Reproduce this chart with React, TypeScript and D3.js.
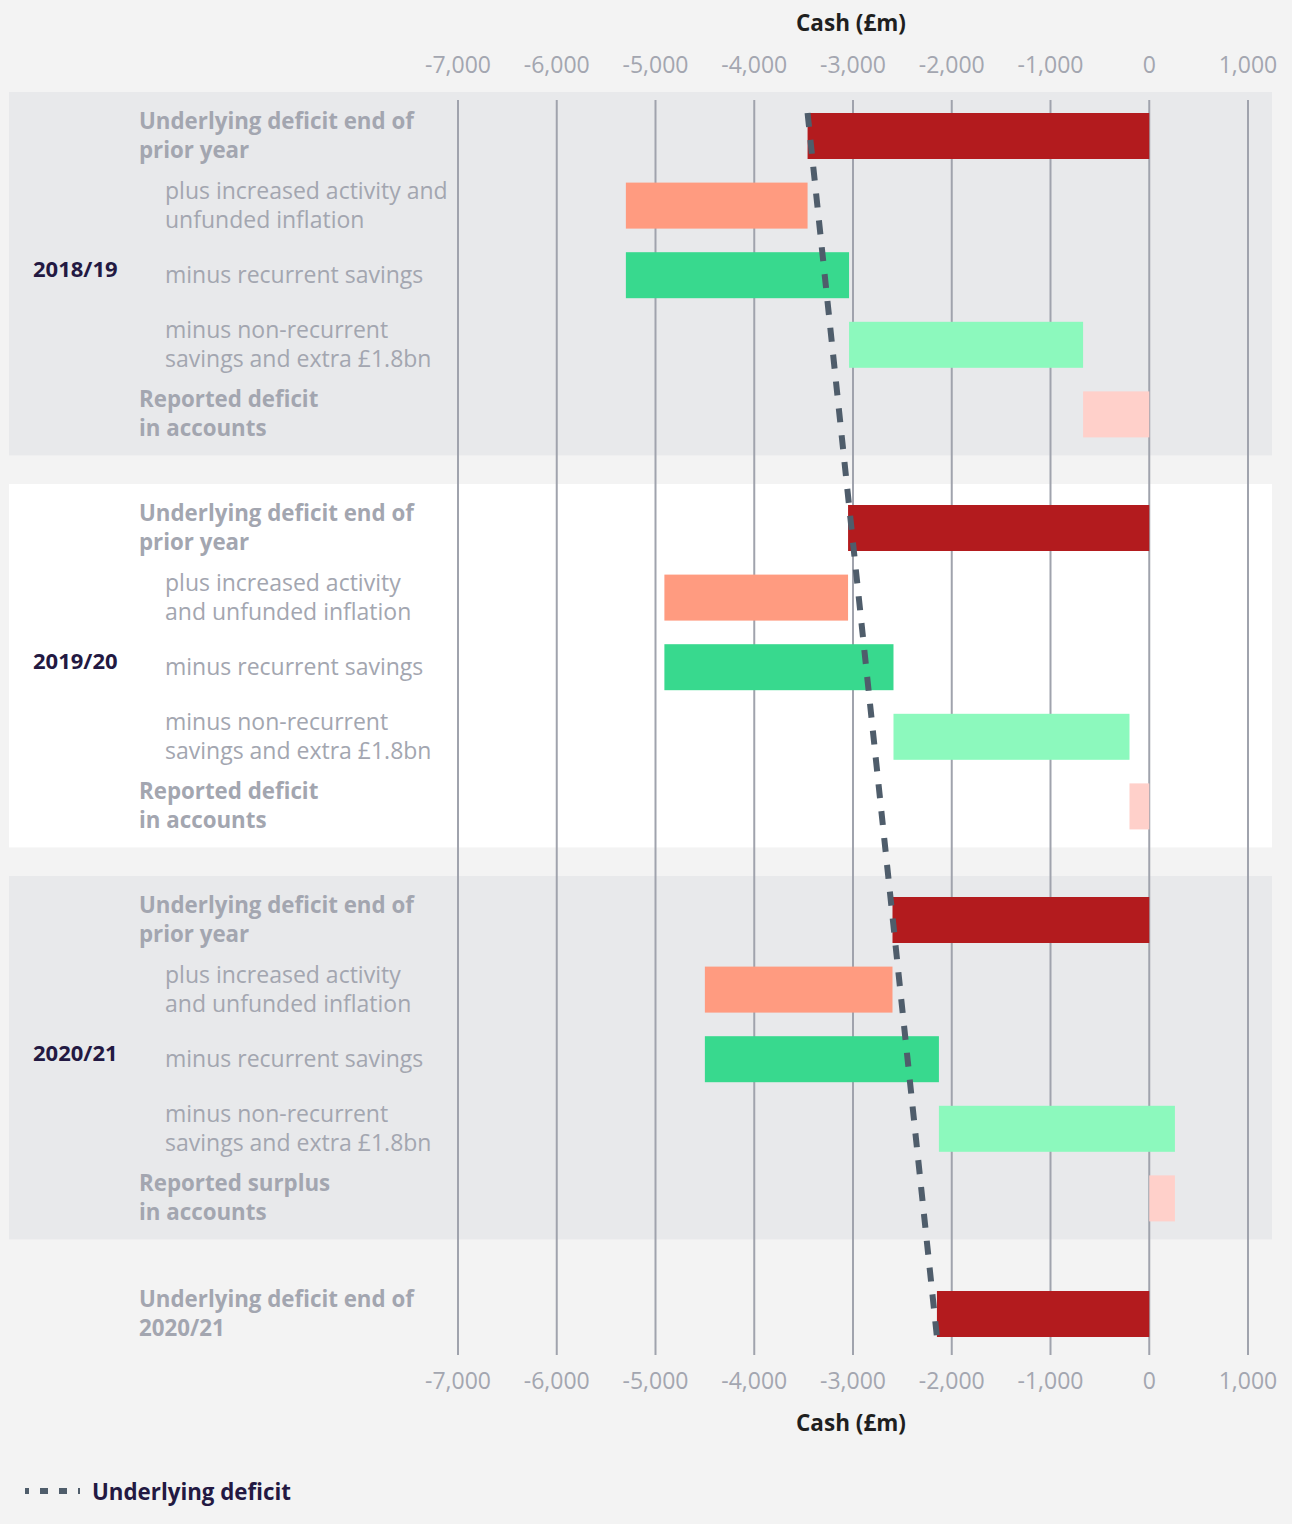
import React from "react";
import * as d3 from "d3";

const years = ["2018/19", "2019/20", "2020/21"];
const underlyingStart = [-3460, -3050, -2600];
const increasedActivity = [1840, 1860, 1900];
const recurrentSavings = [2260, 2320, 2370];
const nonRecurrentSavings = [2370, 2390, 2390];
const finalUnderlying = -2150;
const finalLabel = ["Underlying deficit end of", "2020/21"];

const rowLabels = [
  [["Underlying deficit end of", "prior year"], ["plus increased activity and", "unfunded inflation"], ["minus recurrent savings"], ["minus non-recurrent", "savings and extra £1.8bn"], ["Reported deficit", "in accounts"]],
  [["Underlying deficit end of", "prior year"], ["plus increased activity", "and unfunded inflation"], ["minus recurrent savings"], ["minus non-recurrent", "savings and extra £1.8bn"], ["Reported deficit", "in accounts"]],
  [["Underlying deficit end of", "prior year"], ["plus increased activity", "and unfunded inflation"], ["minus recurrent savings"], ["minus non-recurrent", "savings and extra £1.8bn"], ["Reported surplus", "in accounts"]],
];
const rowIsMain = [true, false, false, false, true];
const rowColors = ["#b31b1e", "#ff9b80", "#38d98e", "#8cf9bd", "#ffd0ca"];

const W = 1292;
const H = 1524;
const FONT = "'Open Sans', Lato, sans-serif";
const LABEL = "#a3a6b0";
const DARK = "#231942";

const fmt = d3.formatLocale({ decimal: ".", thousands: ",", grouping: [3], currency: ["£", ""], minus: "-" }).format(",");

export default function App() {
  const x = d3.scaleLinear().domain([-7000, 1000]).range([458, 1248]);
  const ticks = x.ticks(8);
  const barH = 46;
  const rowPitch = 69.6;
  const groupPitch = 392;
  const top0 = 113;
  const rowY = (g: number, r: number) => top0 + g * groupPitch + r * rowPitch;
  const finalY = 1291;

  type Bar = { g: number; r: number; x0: number; x1: number };
  const bars: Bar[] = [];
  years.forEach((_, g) => {
    const s = underlyingStart[g];
    const a = s - increasedActivity[g];
    const b = a + recurrentSavings[g];
    const c = b + nonRecurrentSavings[g];
    bars.push({ g, r: 0, x0: s, x1: 0 });
    bars.push({ g, r: 1, x0: a, x1: s });
    bars.push({ g, r: 2, x0: a, x1: b });
    bars.push({ g, r: 3, x0: b, x1: c });
    bars.push({ g, r: 4, x0: Math.min(c, 0), x1: Math.max(c, 0) });
  });

  const line = d3.line<[number, number]>()([
    [x(underlyingStart[0]), rowY(0, 0)],
    [x(finalUnderlying), finalY + barH],
  ]);

  return (
    <div style={{ position: "absolute", left: 0, top: 0 }}>
      <svg width={W} height={H} style={{ display: "block", fontFamily: FONT }}>
        <rect x={0} y={0} width={W} height={H} fill="#f3f3f3" />
        {years.map((_, g) => (
          <rect key={g} x={9} y={rowY(g, 0) - 21} width={1263} height={rowY(g, 4) + barH + 18 - (rowY(g, 0) - 21)} fill={g === 1 ? "#ffffff" : "#e8e9eb"} />
        ))}
        {ticks.map((t) => (
          <line key={t} x1={x(t)} x2={x(t)} y1={100} y2={1355} stroke="#a0a3ad" strokeWidth={2} />
        ))}
        {ticks.map((t) => (
          <g key={"l" + t}>
            <text x={x(t)} y={64} textAnchor="middle" dominantBaseline="central" fontSize={23} fill={LABEL}>{fmt(t)}</text>
            <text x={x(t)} y={1380} textAnchor="middle" dominantBaseline="central" fontSize={23} fill={LABEL}>{fmt(t)}</text>
          </g>
        ))}
        <text x={851} y={22} textAnchor="middle" dominantBaseline="central" fontSize={22.5} fontWeight={700} fill="#1f1f1f">Cash (£m)</text>
        <text x={851} y={1422} textAnchor="middle" dominantBaseline="central" fontSize={22.5} fontWeight={700} fill="#1f1f1f">Cash (£m)</text>
        {bars.map((b, i) => (
          <rect key={i} x={x(b.x0)} y={rowY(b.g, b.r)} width={x(b.x1) - x(b.x0)} height={barH} fill={rowColors[b.r]} />
        ))}
        <rect x={x(finalUnderlying)} y={finalY} width={x(0) - x(finalUnderlying)} height={barH} fill={rowColors[0]} />
        {years.map((yr, g) => (
          <g key={yr}>
            <text x={33} y={rowY(g, 2) + barH / 2 - 7} dominantBaseline="central" fontSize={22} fontWeight={700} fill={DARK}>{yr}</text>
            {rowLabels[g].map((lines, r) => {
              const cy = rowY(g, r) + barH / 2 - 1;
              const lx = rowIsMain[r] ? 139 : 165;
              return lines.map((ln, k) => (
                <text key={r + "-" + k} x={lx} y={cy + (k - (lines.length - 1) / 2) * 29} dominantBaseline="central" fontSize={rowIsMain[r] ? 22.3 : 23} fontWeight={rowIsMain[r] ? 700 : 400} fill={LABEL}>{ln}</text>
              ));
            })}
          </g>
        ))}
        {finalLabel.map((ln, k) => (
          <text key={k} x={139} y={finalY + barH / 2 - 1 + (k - 0.5) * 29} dominantBaseline="central" fontSize={22.3} fontWeight={700} fill={LABEL}>{ln}</text>
        ))}
        <path d={line ?? ""} stroke="#4f5d6b" strokeWidth={6} strokeDasharray="14,13" fill="none" />
        <line x1={25} x2={80} y1={1491} y2={1491} stroke="#4f5d6b" strokeWidth={6} strokeDasharray="8,11" strokeDashoffset={4} />
        <text x={92} y={1491} dominantBaseline="central" fontSize={22.3} fontWeight={700} fill={DARK}>Underlying deficit</text>
      </svg>
    </div>
  );
}
